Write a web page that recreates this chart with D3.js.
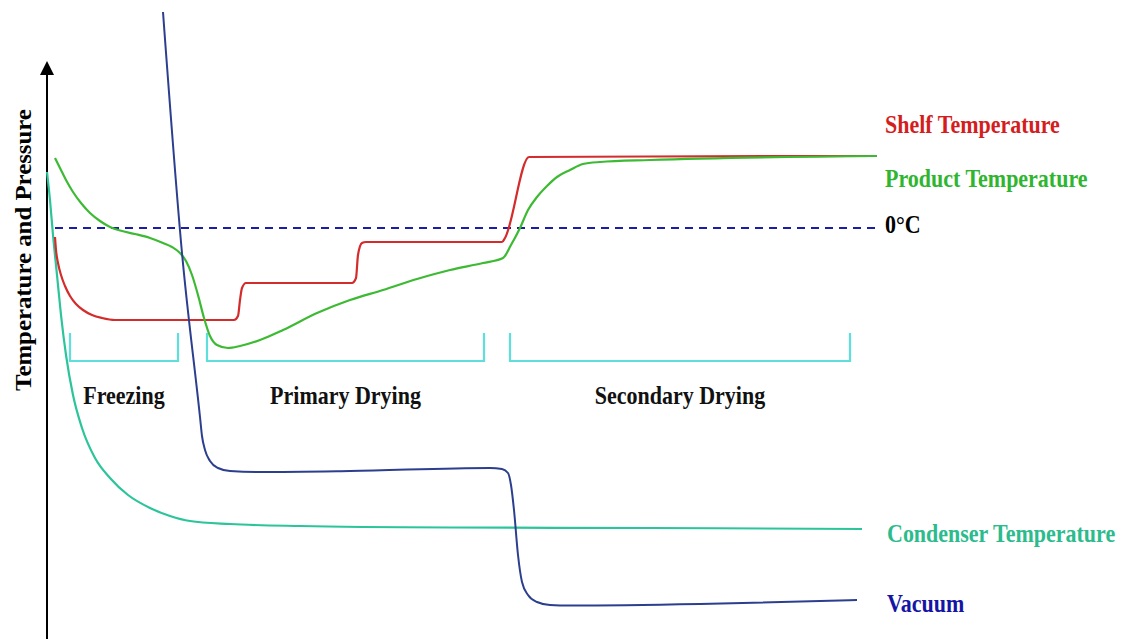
<!DOCTYPE html>
<html>
<head>
<meta charset="utf-8">
<script src="https://cdn.jsdelivr.net/npm/d3@7"></script>
<style>
  html, body { margin: 0; padding: 0; background: #fff; }
  svg { display: block; }
  text { font-family: "Liberation Serif", "Times New Roman", serif; font-weight: bold; }
</style>
</head>
<body>
<svg id="chart" width="1121" height="639"></svg>
<script>
// ---- Data (schematic time units vs. temperature/pressure units) ----
const shelfT = [0.8,0.9,1.1,1.4,1.8,2.3,2.9,3.6,4.5,5.5,6.8,10,18.7,19.1,19.3,19.5,19.9,25,30.5,30.9,31.1,31.5,31.9,40,45.5,45.8,48.2,60,83];
const shelfV = [-1.8,-4.4,-7,-9.4,-11.6,-13.6,-15.2,-16.4,-17.4,-18,-18.4,-18.4,-18.4,-17.6,-14.4,-12,-11,-11,-11,-10,-5.4,-3,-2.8,-2.8,-2.8,-2,14.2,14.3,14.4];

const productT = [0.8,1.3,1.9,2.6,3.4,4.3,5.3,6.3,7.5,8.8,10.3,11.6,12.5,13.3,13.9,14.5,15.1,15.7,16.3,17,18.1,19.3,21.3,23.6,27,30.3,33.6,37,40.3,43.6,45.6,46.4,47.3,48.1,49,50,51,52.3,53.6,55.3,60.3,83];
const productV = [14,12,9.6,7.2,5,3,1.4,0.2,-0.6,-1.2,-2,-3,-3.8,-5,-6.6,-9.4,-13.4,-18,-21.6,-23.4,-24,-23.6,-22.4,-20.4,-17,-14.4,-12.4,-10.2,-8.4,-7,-6,-3.4,0,3.6,6.2,8.4,10.2,11.6,12.8,13.2,13.6,14.4];

const condenserT = [0,0.3,0.6,1.0,1.4,1.9,2.6,3.5,4.8,6.3,8.1,10.3,12.3,14.3,18.3,25.3,40.3,60.3,81.5];
const condenserV = [11.2,5.6,-1.4,-9.4,-17.4,-25.4,-33.4,-40,-46,-50,-53.4,-56,-57.6,-58.6,-59.2,-59.6,-59.9,-60,-60.2];

const vacuumT = [11.6,13.5,15.3,15.5,15.8,16.3,17.1,18.3,21.3,30.3,44.3,45.5,46.1,46.4,46.7,47.1,47.5,48.1,49,50.3,52.3,65.3,81];
const vacuumV = [43.2,-5,-37.8,-41.6,-44.4,-46.6,-48,-48.6,-48.8,-48.6,-48,-48.2,-49,-51.4,-56.4,-65.4,-70.8,-73.4,-74.8,-75.4,-75.5,-75.2,-74.4];

const zeroLine = [0.8, 83];   // 0 °C reference, time extent

const phaseNames = ["Freezing", "Primary Drying", "Secondary Drying"];
const phaseStart = [2.3, 16.0, 46.3];
const phaseEnd   = [13.1, 43.7, 80.3];

const seriesNames = ["Shelf Temperature", "Product Temperature", "0°C", "Condenser Temperature", "Vacuum"];
const yAxisTitle = "Temperature and Pressure";

// ---- Layout ----
const svg = d3.select("#chart");
const x = d3.scaleLinear().domain([0, 83]).range([47, 877]);
const y = d3.scaleLinear().domain([-80, 40]).range([628, 28]);

const colors = {
  shelf: "#d42b2b", product: "#3dba33", zero: "#1c1caa",
  condenser: "#2cc49a", vacuum: "#2b3f8e", bracket: "#5fdede"
};
const textColors = ["#d41e1e", "#2fb52f", "#000000", "#2bbb8c", "#1515a5"];

function zip(a, b) { return a.map((d, i) => [d, b[i]]); }
const line = d3.line().x(d => x(d[0])).y(d => y(d[1])).curve(d3.curveMonotoneX);

// y axis with arrow
svg.append("defs").append("marker")
  .attr("id", "arrow").attr("viewBox", "0 0 10 10").attr("refX", 0).attr("refY", 5)
  .attr("markerWidth", 7).attr("markerHeight", 9).attr("markerUnits", "strokeWidth")
  .attr("orient", "auto")
  .append("path").attr("d", "M0,0 L10,5 L0,10 Z").attr("fill", "#000");

svg.append("line")
  .attr("x1", x(0)).attr("x2", x(0))
  .attr("y1", 639).attr("y2", 75)
  .attr("stroke", "#000").attr("stroke-width", 2)
  .attr("marker-end", "url(#arrow)");

svg.append("text")
  .attr("transform", `translate(31,${250}) rotate(-90) scale(1.08,1)`)
  .attr("text-anchor", "middle")
  .attr("font-size", 23)
  .attr("fill", "#000")
  .text(yAxisTitle);

// phase brackets
const bTop = -21, bBot = -26.6;
phaseNames.forEach((name, i) => {
  const x0 = x(phaseStart[i]), x1 = x(phaseEnd[i]);
  svg.append("path")
    .attr("d", `M${x0},${y(bTop)} L${x0},${y(bBot)} L${x1},${y(bBot)} L${x1},${y(bTop)}`)
    .attr("fill", "none").attr("stroke", colors.bracket).attr("stroke-width", 2.2);
  svg.append("text")
    .attr("transform", `translate(${(x0 + x1) / 2},${y(-35.2)}) scale(1,1.1)`)
    .attr("text-anchor", "middle").attr("font-size", 22).attr("fill", "#111")
    .text(name);
});

// 0 °C dashed line
svg.append("line")
  .attr("x1", x(zeroLine[0])).attr("x2", x(zeroLine[1]))
  .attr("y1", y(0)).attr("y2", y(0))
  .attr("stroke", colors.zero).attr("stroke-width", 2.2)
  .attr("stroke-dasharray", "8,6");

// curves
svg.append("path").datum(zip(condenserT, condenserV)).attr("d", line)
  .attr("fill", "none").attr("stroke", colors.condenser).attr("stroke-width", 2.2);
svg.append("path").datum(zip(shelfT, shelfV)).attr("d", line)
  .attr("fill", "none").attr("stroke", colors.shelf).attr("stroke-width", 2.2);
svg.append("path").datum(zip(productT, productV)).attr("d", line)
  .attr("fill", "none").attr("stroke", colors.product).attr("stroke-width", 2.2);
svg.append("path").datum(zip(vacuumT, vacuumV)).attr("d", line)
  .attr("fill", "none").attr("stroke", colors.vacuum).attr("stroke-width", 2);

// series labels
const labelV = [19, 8.2, -1, -62.8, -76.8];
const labelX = [885, 885, 885, 887, 887];
seriesNames.forEach((name, i) => {
  svg.append("text")
    .attr("transform", `translate(${labelX[i]},${y(labelV[i])}) scale(1,1.1)`)
    .attr("font-size", 22).attr("fill", textColors[i])
    .text(name);
});
</script>
</body>
</html>
